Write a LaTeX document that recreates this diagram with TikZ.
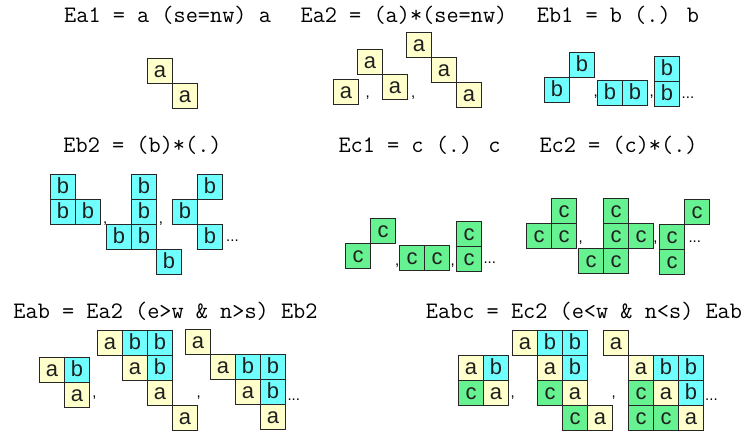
\documentclass[tikz,border=0pt]{standalone}
\usepackage{fontspec}
\newfontfamily\cellfam{Liberation Sans}
\definecolor{ya}{HTML}{FFFFCC}
\definecolor{cb}{HTML}{6FFFFF}
\definecolor{gc}{HTML}{66F291}
\definecolor{edgegray}{HTML}{262626}
\tikzset{
 cellbase/.style={rectangle, draw=edgegray, line width=1.55bp, minimum width=25bp, minimum height=25bp, inner sep=0pt, outer sep=0pt, anchor=north west, font=\cellfam\fontsize{22}{22}\selectfont, text height=12.5bp, text depth=0pt, text=black!88},
 acell/.style={cellbase, fill=ya},
 bcell/.style={cellbase, fill=cb},
 ccell/.style={cellbase, fill=gc},
 sepmark/.style={anchor=base, inner sep=0pt, font=\cellfam\fontsize{15}{16}\selectfont},
 titletext/.style={anchor=base west, inner sep=0pt, font=\ttfamily\fontsize{23.7}{26}\selectfont},
 fig/.style={x=25bp, y=-25bp}
}
\begin{document}
\begin{tikzpicture}[x=1bp,y=-1bp]
\useasboundingbox (0,0) rectangle (753,433);
% titles
\node[titletext] (t1) at (64,23) {Ea1 = a (se=nw) a};
\node[titletext] (t2) at (300.4,23) {Ea2 = (a)*(se=nw)};
\node[titletext] (t3) at (536.7,23) {Eb1 = b (.) b};
\node[titletext] (t4) at (63.3,152.7) {Eb2 = (b)*(.)};
\node[titletext] (t5) at (338.3,152.7) {Ec1 = c (.) c};
\node[titletext] (t6) at (539.3,152.7) {Ec2 = (c)*(.)};
\node[titletext] (t7) at (13.3,318.3) {Eab = Ea2 (e>w \& n>s) Eb2};
\node[titletext] (t8) at (425.7,318.3) {Eabc = Ec2 (e<w \& n<s) Eab};
% Ea1
\begin{scope}[shift={(147.5,58.5)}, fig]
\node[acell] (ea1x1) at (0,0) {a};
\node[acell] (ea1x2) at (1,1) {a};
\end{scope}
% Ea2
\begin{scope}[shift={(333.5,79.5)}, fig]
\node[acell] (ea2a1) at (0,0) {a};
\end{scope}
\node[sepmark] (ea2s1) at (367.7,97.5) {,};
\begin{scope}[shift={(357.5,49.5)}, fig]
\node[acell] (ea2b1) at (0,0) {a};
\node[acell] (ea2b2) at (1,1) {a};
\end{scope}
\node[sepmark] (ea2s2) at (413.3,97.5) {,};
\begin{scope}[shift={(406.5,32.5)}, fig]
\node[acell] (ea2c1) at (0,0) {a};
\node[acell] (ea2c2) at (1,1) {a};
\node[acell] (ea2c3) at (2,2) {a};
\end{scope}
% Eb1
\begin{scope}[shift={(544.5,52.5)}, fig]
\node[bcell] (eb1a1) at (1,0) {b};
\node[bcell] (eb1a2) at (0,1) {b};
\end{scope}
\node[sepmark] (eb1s1) at (595.7,97) {,};
\begin{scope}[shift={(597.5,80.5)}, fig]
\node[bcell] (eb1b1) at (0,0) {b};
\node[bcell] (eb1b2) at (1,0) {b};
\end{scope}
\node[sepmark] (eb1s2) at (651.7,97) {,};
\begin{scope}[shift={(654.5,56.5)}, fig]
\node[bcell] (eb1c1) at (0,0) {b};
\node[bcell] (eb1c2) at (0,1) {b};
\end{scope}
\node[sepmark, anchor=base west] (eb1d) at (681.5,98.7) {...};
% Eb2
\begin{scope}[shift={(50.5,174.5)}, fig]
\node[bcell] (eb2a1) at (0,0) {b};
\node[bcell] (eb2a2) at (0,1) {b};
\node[bcell] (eb2a3) at (1,1) {b};
\end{scope}
\node[sepmark] (eb2s1) at (105.3,224) {,};
\begin{scope}[shift={(106.5,174.5)}, fig]
\node[bcell] (eb2b1) at (1,0) {b};
\node[bcell] (eb2b2) at (1,1) {b};
\node[bcell] (eb2b3) at (0,2) {b};
\node[bcell] (eb2b4) at (1,2) {b};
\node[bcell] (eb2b5) at (2,3) {b};
\end{scope}
\node[sepmark] (eb2s2) at (161,224) {,};
\begin{scope}[shift={(172.5,174.5)}, fig]
\node[bcell] (eb2c1) at (1,0) {b};
\node[bcell] (eb2c2) at (0,1) {b};
\node[bcell] (eb2c3) at (1,2) {b};
\end{scope}
\node[sepmark, anchor=base west] (eb2d) at (226,242) {...};
% Ec1
\begin{scope}[shift={(345.5,218.5)}, fig]
\node[ccell] (ec1a1) at (1,0) {c};
\node[ccell] (ec1a2) at (0,1) {c};
\end{scope}
\node[sepmark] (ec1s1) at (397.3,266) {,};
\begin{scope}[shift={(399.5,245.5)}, fig]
\node[ccell] (ec1b1) at (0,0) {c};
\node[ccell] (ec1b2) at (1,0) {c};
\end{scope}
\node[sepmark] (ec1s2) at (452.8,266) {,};
\begin{scope}[shift={(456.5,221.5)}, fig]
\node[ccell] (ec1c1) at (0,0) {c};
\node[ccell] (ec1c2) at (0,1) {c};
\end{scope}
\node[sepmark, anchor=base west] (ec1d) at (483.3,263.5) {...};
% Ec2
\begin{scope}[shift={(526.5,198.5)}, fig]
\node[ccell] (ec2a1) at (1,0) {c};
\node[ccell] (ec2a2) at (0,1) {c};
\node[ccell] (ec2a3) at (1,1) {c};
\end{scope}
\node[sepmark] (ec2s1) at (580.7,242.5) {,};
\begin{scope}[shift={(578.5,198.5)}, fig]
\node[ccell] (ec2b1) at (1,0) {c};
\node[ccell] (ec2b2) at (1,1) {c};
\node[ccell] (ec2b3) at (2,1) {c};
\node[ccell] (ec2b4) at (0,2) {c};
\node[ccell] (ec2b5) at (1,2) {c};
\end{scope}
\node[sepmark] (ec2s2) at (655.5,242.5) {,};
\begin{scope}[shift={(659.5,199.5)}, fig]
\node[ccell] (ec2c1) at (1,0) {c};
\node[ccell] (ec2c2) at (0,1) {c};
\node[ccell] (ec2c3) at (0,2) {c};
\end{scope}
\node[sepmark, anchor=base west] (ec2d) at (688.3,243) {...};
% Eab
\begin{scope}[shift={(39.5,357.5)}, fig]
\node[acell] (eaba1) at (0,0) {a};
\node[bcell] (eaba2) at (1,0) {b};
\node[acell] (eaba3) at (1,1) {a};
\end{scope}
\node[sepmark] (eabs1) at (94.5,397.5) {,};
\begin{scope}[shift={(97.5,330.5)}, fig]
\node[acell] (eabb1) at (0,0) {a};
\node[bcell] (eabb2) at (1,0) {b};
\node[bcell] (eabb3) at (2,0) {b};
\node[acell] (eabb4) at (1,1) {a};
\node[bcell] (eabb5) at (2,1) {b};
\node[acell] (eabb6) at (2,2) {a};
\node[acell] (eabb7) at (3,3) {a};
\end{scope}
\node[sepmark] (eabs2) at (198.6,397.5) {,};
\begin{scope}[shift={(185.5,329.5)}, fig]
\node[acell] (eabc1) at (0,0) {a};
\node[acell] (eabc2) at (1,1) {a};
\node[bcell] (eabc3) at (2,1) {b};
\node[bcell] (eabc4) at (3,1) {b};
\node[acell] (eabc5) at (2,2) {a};
\node[bcell] (eabc6) at (3,2) {b};
\node[acell] (eabc7) at (3,3) {a};
\end{scope}
\node[sepmark, anchor=base west] (eabd) at (287.3,400) {...};
% Eabc
\begin{scope}[shift={(458.5,355.5)}, fig]
\node[acell] (eabca1) at (0,0) {a};
\node[bcell] (eabca2) at (1,0) {b};
\node[ccell] (eabca3) at (0,1) {c};
\node[acell] (eabca4) at (1,1) {a};
\end{scope}
\node[sepmark] (eabcs1) at (512.8,397.5) {,};
\begin{scope}[shift={(512.5,330.5)}, fig]
\node[acell] (eabcb1) at (0,0) {a};
\node[bcell] (eabcb2) at (1,0) {b};
\node[bcell] (eabcb3) at (2,0) {b};
\node[acell] (eabcb4) at (1,1) {a};
\node[bcell] (eabcb5) at (2,1) {b};
\node[ccell] (eabcb6) at (1,2) {c};
\node[acell] (eabcb7) at (2,2) {a};
\node[ccell] (eabcb8) at (2,3) {c};
\node[acell] (eabcb9) at (3,3) {a};
\end{scope}
\node[sepmark] (eabcs2) at (613.6,397.5) {,};
\begin{scope}[shift={(603.5,330.5)}, fig]
\node[acell] (eabcc1) at (0,0) {a};
\node[acell] (eabcc2) at (1,1) {a};
\node[bcell] (eabcc3) at (2,1) {b};
\node[bcell] (eabcc4) at (3,1) {b};
\node[ccell] (eabcc5) at (1,2) {c};
\node[acell] (eabcc6) at (2,2) {a};
\node[bcell] (eabcc7) at (3,2) {b};
\node[ccell] (eabcc8) at (1,3) {c};
\node[ccell] (eabcc9) at (2,3) {c};
\node[acell] (eabcc10) at (3,3) {a};
\end{scope}
\node[sepmark, anchor=base west] (eabcd) at (705,400) {...};
\end{tikzpicture}
\end{document}
